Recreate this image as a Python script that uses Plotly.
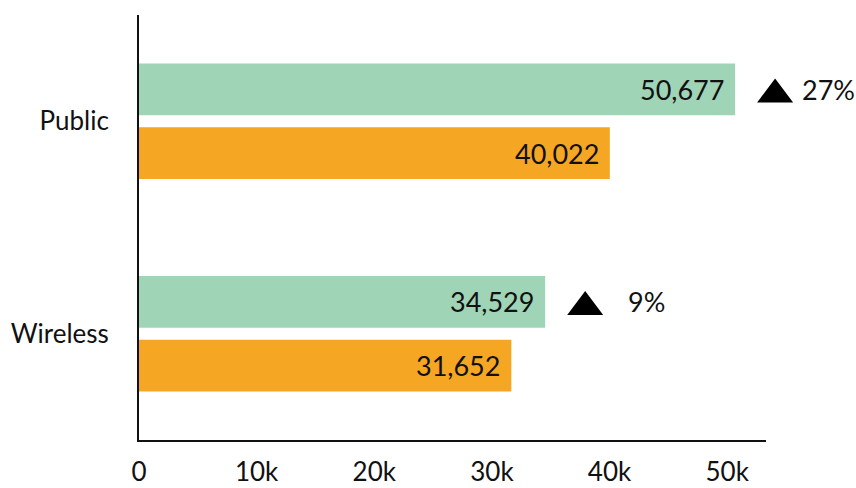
import plotly.graph_objects as go

categories = ["Public", "Wireless"]
current = [50677, 34529]
previous = [40022, 31652]
changes = ["27%", "9%"]
tick_vals = [0, 10000, 20000, 30000, 40000, 50000]
tick_text = ["0", "10k", "20k", "30k", "40k", "50k"]

GREEN = "#a0d4b6"
ORANGE = "#f5a623"
FONT = "Lato"
BARGAP = 0.4
XMAX = 53300

fig = go.Figure()
fig.add_trace(go.Bar(y=categories, x=current, orientation="h",
                     marker=dict(color=GREEN, line=dict(width=0)), showlegend=False,
                     hoverinfo="skip"))
fig.add_trace(go.Bar(y=categories, x=previous, orientation="h",
                     marker=dict(color=ORANGE, line=dict(width=0)), showlegend=False,
                     hoverinfo="skip"))

slot = (1 - BARGAP) / 2
annotations = []
shapes = []
for i, cat in enumerate(categories):
    yg = i - slot / 2
    yo = i + slot / 2
    annotations.append(dict(x=current[i], y=yg, xref="x", yref="y", text=f"{current[i]:,}",
                            showarrow=False, xanchor="right", xshift=-9,
                            font=dict(family=FONT, size=27, color="#111")))
    annotations.append(dict(x=previous[i], y=yo, xref="x", yref="y", text=f"{previous[i]:,}",
                            showarrow=False, xanchor="right", xshift=-9,
                            font=dict(family=FONT, size=27, color="#111")))
    annotations.append(dict(x=current[i], y=yg, xref="x", yref="y", text=changes[i],
                            showarrow=False, xanchor="right", xshift=122,
                            font=dict(family=FONT, size=27, color="#111")))
    shapes.append(dict(type="path", xref="paper", yref="y", xsizemode="pixel", ysizemode="pixel",
                       xanchor=current[i] / XMAX, yanchor=yg,
                       path="M 22,-13 L 58,-13 L 40,11 Z",
                       fillcolor="#000", line=dict(width=0)))

fig.update_layout(
    width=856, height=488,
    margin=dict(l=139, r=90, t=15, b=48),
    paper_bgcolor="white", plot_bgcolor="white",
    barmode="group", bargap=BARGAP, bargroupgap=0.1875,
    font=dict(family=FONT, size=25, color="#111"),
    xaxis=dict(range=[0, XMAX], tickvals=tick_vals, ticktext=tick_text, automargin=False,
               showgrid=False, zeroline=False, showline=True, linecolor="#111", linewidth=2,
               ticks="outside", ticklen=8, tickcolor="rgba(0,0,0,0)",
               tickfont=dict(family=FONT, size=26, color="#111")),
    yaxis=dict(autorange="reversed", automargin=False, showgrid=False, zeroline=False,
               showline=True, linecolor="#111", linewidth=2, ticks="outside", ticklen=23,
               tickcolor="rgba(0,0,0,0)",
               tickfont=dict(family=FONT, size=26, color="#111")),
    annotations=annotations, shapes=shapes,
)

fig.write_html(
    "out.html",
    config={"displayModeBar": False},
    post_script="document.body.style.margin='0';document.body.style.overflow='hidden';",
)
